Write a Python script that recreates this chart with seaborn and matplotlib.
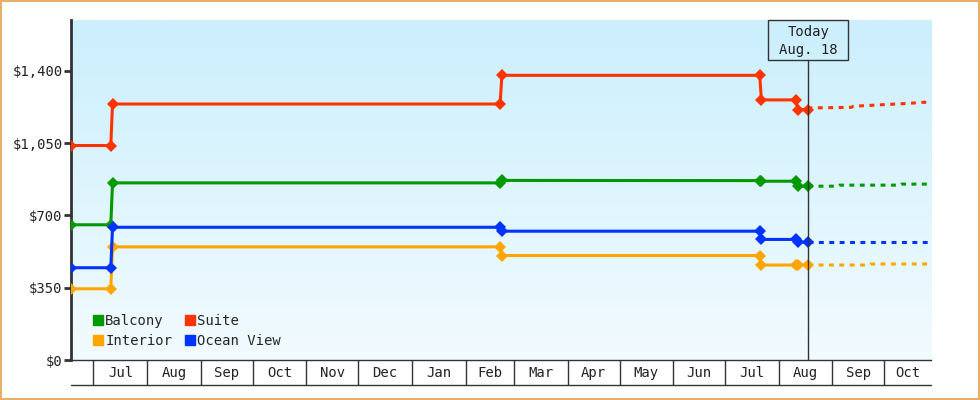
import pandas as pd
import matplotlib.pyplot as plt
import matplotlib.dates as mdates
import matplotlib.patches as mpatches
import matplotlib.transforms as mtransforms
import seaborn as sns
import numpy as np

# prijzen per categorie (gemeten datum, prijs)
series_names = ['Balcony', 'Interior', 'Suite', 'Ocean View']
series_colors = ['#009900', '#FFA500', '#FF3300', '#0033FF']

price_dates = ['2022-06-18', '2022-07-11', '2022-07-12', '2023-02-21', '2023-02-22',
               '2023-07-21', '2023-07-22', '2023-08-11', '2023-08-12', '2023-08-18']
balcony = [655, 655, 858, 858, 870, 869, 866, 866, 842, 842]
interior = [345, 345, 548, 548, 506, 506, 460, 460, 460, 460]
suite = [1039, 1039, 1240, 1240, 1379, 1379, 1260, 1260, 1213, 1213]
ocean_view = [447, 447, 643, 643, 624, 624, 584, 584, 571, 571]

# voorspelling na vandaag
balcony_fc_dates = ['2023-08-18', '2023-09-04', '2023-09-05', '2023-10-10', '2023-10-11', '2023-10-28']
balcony_fc = [842, 842, 847, 847, 852, 852]
interior_fc_dates = ['2023-08-18', '2023-09-22', '2023-09-23', '2023-10-28']
interior_fc = [460, 460, 465, 465]
suite_fc_dates = ['2023-08-18', '2023-08-19', '2023-09-12', '2023-09-13', '2023-09-22',
                  '2023-10-03', '2023-10-15', '2023-10-23', '2023-10-28']
suite_fc = [1213, 1221, 1224, 1229, 1233, 1238, 1243, 1248, 1249]
ocean_fc_dates = ['2023-08-18', '2023-10-28']
ocean_fc = [571, 571]

y_ticks = [0, 350, 700, 1050, 1400]
today = pd.Timestamp('2023-08-18')
x_start = pd.Timestamp('2022-06-18')
x_end = pd.Timestamp('2023-10-28')

hist = pd.concat([
    pd.DataFrame({'date': pd.to_datetime(price_dates), 'price': vals, 'cabin': name})
    for name, vals in zip(series_names, [balcony, interior, suite, ocean_view])
])
fc = pd.concat([
    pd.DataFrame({'date': pd.to_datetime(d), 'price': v, 'cabin': name})
    for name, d, v in zip(series_names,
                          [balcony_fc_dates, interior_fc_dates, suite_fc_dates, ocean_fc_dates],
                          [balcony_fc, interior_fc, suite_fc, ocean_fc])
])
palette = dict(zip(series_names, series_colors))

sns.set_style('white')
plt.rcParams['font.family'] = ['DejaVu Sans Mono', 'DejaVu Sans']

fig = plt.figure(figsize=(9.8, 4), dpi=100)
ax = fig.add_axes([71 / 980, 0.1, 860 / 980, 0.85])

# achtergrond verloop
grad = np.linspace(0, 1, 256).reshape(-1, 1)
ax.imshow(grad, extent=[0, 1, 0, 1], transform=ax.transAxes, aspect='auto',
          cmap=plt.matplotlib.colors.LinearSegmentedColormap.from_list('bg', ['#F2FBFF', '#CBEFFD']),
          origin='lower', zorder=0)

sns.lineplot(data=fc, x='date', y='price', hue='cabin', palette=palette, ax=ax,
             estimator=None, sort=False, legend=False, linewidth=2.2, dashes=False, zorder=3)
for line in ax.get_lines():
    line.set_dashes((1.6, 1.8))
sns.lineplot(data=hist, x='date', y='price', hue='cabin', palette=palette, ax=ax,
             estimator=None, sort=False, legend=False, linewidth=2.2, marker='D',
             markersize=6, markeredgewidth=0, zorder=4)

ax.set_xlim(x_start, x_end)
ax.set_ylim(0, 1647)
ax.set_xlabel('')
ax.set_ylabel('')

ax.set_yticks(y_ticks)
ax.set_yticklabels([f'${v:,}' for v in y_ticks])
ax.tick_params(axis='y', left=True, direction='out', length=5, width=2, color='#333333',
               pad=1, labelsize=10, labelcolor='#222222')

# maand vakjes onder de as
months = pd.date_range('2022-07-01', '2023-10-01', freq='MS')
edges = list(months) + [x_end]
mids = [a + (b - a) / 2 for a, b in zip(edges[:-1], edges[1:])]
ax.set_xticks(months)
ax.set_xticklabels([])
ax.set_xticks(mids, minor=True)
ax.set_xticklabels([m.strftime('%b') for m in months], minor=True)
ax.tick_params(axis='x', which='major', bottom=True, direction='out', length=18, width=1,
               color='#333333')
ax.tick_params(axis='x', which='minor', bottom=True, length=0, pad=4, labelsize=10,
               labelcolor='#222222')
ax.plot([0, 1], [-25 / 340, -25 / 340], transform=ax.transAxes, color='#333333',
        linewidth=1, clip_on=False)

for s in ['top', 'right']:
    ax.spines[s].set_visible(False)
ax.spines['left'].set_linewidth(2)
ax.spines['left'].set_color('#333333')
ax.spines['bottom'].set_linewidth(1)
ax.spines['bottom'].set_color('#333333')

# vandaag
trans = mtransforms.blended_transform_factory(ax.transData, ax.transAxes)
ax.axvline(today, ymin=0, ymax=1 - 40 / 340, color='#333333', linewidth=1, zorder=5)
half = pd.Timedelta(days=23)
ax.add_patch(mpatches.Rectangle((mdates.date2num(today - half), 1 - 40 / 340),
                                mdates.date2num(today + half) - mdates.date2num(today - half),
                                40 / 340, transform=trans, facecolor='none',
                                edgecolor='#333333', linewidth=1, clip_on=False, zorder=5))
ax.text(today, 1 - 21 / 340, 'Today\nAug. 18', transform=trans, ha='center', va='center',
        fontsize=10, color='#222222', linespacing=1.45, zorder=6)

handles = [mpatches.Patch(color=palette[n], label=n) for n in series_names]
ax.legend(handles=handles, ncol=2, loc='lower left', bbox_to_anchor=(0.014, 0.006),
          frameon=False, handlelength=0.75, handleheight=0.75, handletextpad=0.15,
          columnspacing=0.9, labelspacing=0.45, fontsize=10, borderpad=0.2)

fig.patches.append(mpatches.Rectangle((0.001, 0.002), 0.998, 0.996, transform=fig.transFigure,
                                      facecolor='none', edgecolor='#E8AE6A', linewidth=1.5))

fig.savefig('out.png', dpi=100)
